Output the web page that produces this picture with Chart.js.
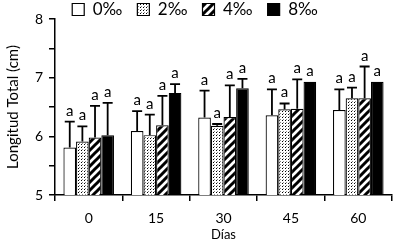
<!DOCTYPE html>
<html>
<head>
<meta charset="utf-8">
<script src="https://cdn.jsdelivr.net/npm/chart.js@4"></script>
<style>
  html, body { margin: 0; padding: 0; background: #fff; }
  #wrap { width: 395px; height: 247px; }
</style>
</head>
<body>
<div id="wrap"><canvas id="chart" width="395" height="247"></canvas></div>
<script>
const days = ["0", "15", "30", "45", "60"];
const seriesNames = ["0‰", "2‰", "4‰", "8‰"];

// mean length (cm) per salinity
const s0 = [5.81, 6.09, 6.32, 6.36, 6.45];
const s2 = [5.91, 6.02, 6.18, 6.46, 6.65];
const s4 = [5.98, 6.19, 6.33, 6.47, 6.65];
const s8 = [6.02, 6.74, 6.82, 6.93, 6.93];

// upper error (cm)
const e0 = [0.44, 0.34, 0.46, 0.44, 0.35];
const e2 = [0.26, 0.35, 0.03, 0.10, 0.18];
const e4 = [0.54, 0.50, 0.54, 0.50, 0.54];
const e8 = [0.55, 0.15, 0.16, 0, 0];

const letters = ["a", "a", "a", "a", "a"];

function dotPattern() {
  const c = document.createElement("canvas");
  c.width = 3; c.height = 3;
  const g = c.getContext("2d");
  g.fillStyle = "#fff";
  g.fillRect(0, 0, 3, 3);
  g.fillStyle = "#000";
  g.fillRect(0, 0, 1, 1);
  g.fillStyle = "#888";
  g.fillRect(1, 2, 1, 1);
  return g.createPattern(c, "repeat");
}

function hatchPattern() {
  const c = document.createElement("canvas");
  c.width = 8; c.height = 8;
  const g = c.getContext("2d");
  g.fillStyle = "#fff";
  g.fillRect(0, 0, 8, 8);
  g.strokeStyle = "#000";
  g.lineWidth = 3;
  g.beginPath();
  g.moveTo(-2, 10); g.lineTo(10, -2);
  g.moveTo(-6, 6); g.lineTo(6, -6);
  g.moveTo(2, 14); g.lineTo(14, 2);
  g.stroke();
  return g.createPattern(c, "repeat");
}

const fills = ["#fff", dotPattern(), hatchPattern(), "#000"];
const values = [s0, s2, s4, s8];
const errors = [e0, e2, e4, e8];

const font = "Lato, 'Open Sans', sans-serif";

// keep the legend strip thin so the plot starts near the top
const legendHeight = {
  id: "legendHeight",
  beforeUpdate(chart) {
    const lg = chart.legend;
    if (lg && !lg._thin) {
      const fit = lg.fit;
      lg.fit = function () { fit.call(this); this.height = 19; };
      lg.draw = function () {
        const ctx = this.ctx;
        ctx.save();
        ctx.translate(-1, -14);
        this._draw();
        ctx.restore();
      };
      lg._thin = true;
    }
  }
};

const errorBars = {
  id: "errorBars",
  afterDatasetsDraw(chart) {
    const ctx = chart.ctx;
    const y = chart.scales.y;
    ctx.save();
    ctx.strokeStyle = "#000";
    ctx.lineWidth = 1.8;
    ctx.fillStyle = "#000";
    ctx.font = "15px " + font;
    ctx.textAlign = "center";
    ctx.textBaseline = "alphabetic";
    chart.data.datasets.forEach((ds, i) => {
      const meta = chart.getDatasetMeta(i);
      meta.data.forEach((bar, j) => {
        const v = ds.data[j];
        const err = errors[i][j];
        const yTop = y.getPixelForValue(v);
        const yErr = y.getPixelForValue(v + err);
        if (err > 0) {
          ctx.beginPath();
          ctx.moveTo(bar.x, yTop);
          ctx.lineTo(bar.x, yErr);
          ctx.moveTo(bar.x - 5, yErr);
          ctx.lineTo(bar.x + 5, yErr);
          ctx.stroke();
        }
        ctx.fillText(letters[j], bar.x, yErr - 6);
      });
    });
    ctx.restore();
  }
};

new Chart(document.getElementById("chart"), {
  type: "bar",
  data: {
    labels: days,
    datasets: seriesNames.map((name, i) => ({
      label: name,
      data: values[i],
      backgroundColor: fills[i],
      borderColor: "#000",
      borderWidth: 1.2,
      borderSkipped: "bottom",
      categoryPercentage: 0.75,
      barPercentage: 1.0
    }))
  },
  options: {
    responsive: false,
    animation: false,
    layout: { padding: { top: 0, right: 3, left: 0, bottom: 0 } },
    plugins: {
      legend: {
        position: "top",
        labels: {
          boxWidth: 12,
          boxHeight: 12,
          padding: 15,
          color: "#000",
          font: { family: font, size: 17 }
        }
      },
      tooltip: { enabled: false }
    },
    scales: {
      x: {
        offset: true,
        grid: { offset: true, drawOnChartArea: false, tickLength: 6, color: "#000", lineWidth: 1.5 },
        border: { color: "#000", width: 1.5 },
        ticks: { color: "#000", font: { family: font, size: 14 }, padding: 9 },
        title: { display: true, text: "Días", color: "#000", font: { family: font, size: 13 }, padding: { top: 0 } },
        afterFit(scale) { scale.height = 52; }
      },
      y: {
        min: 5,
        max: 8,
        ticks: {
          stepSize: 0.5,
          color: "#000",
          font: { family: font, size: 14 },
          padding: 6,
          callback: (v) => (Number.isInteger(v) ? v : "")
        },
        grid: { drawOnChartArea: false, tickLength: 6, color: "#000", lineWidth: 1.5 },
        border: { color: "#000", width: 1.5 },
        title: { display: true, text: "Longitud Total (cm)", color: "#000", font: { family: font, size: 15 }, padding: { bottom: 4 } },
        afterFit(scale) { scale.width = 55; }
      }
    }
  },
  plugins: [legendHeight, errorBars]
});
</script>
</body>
</html>
